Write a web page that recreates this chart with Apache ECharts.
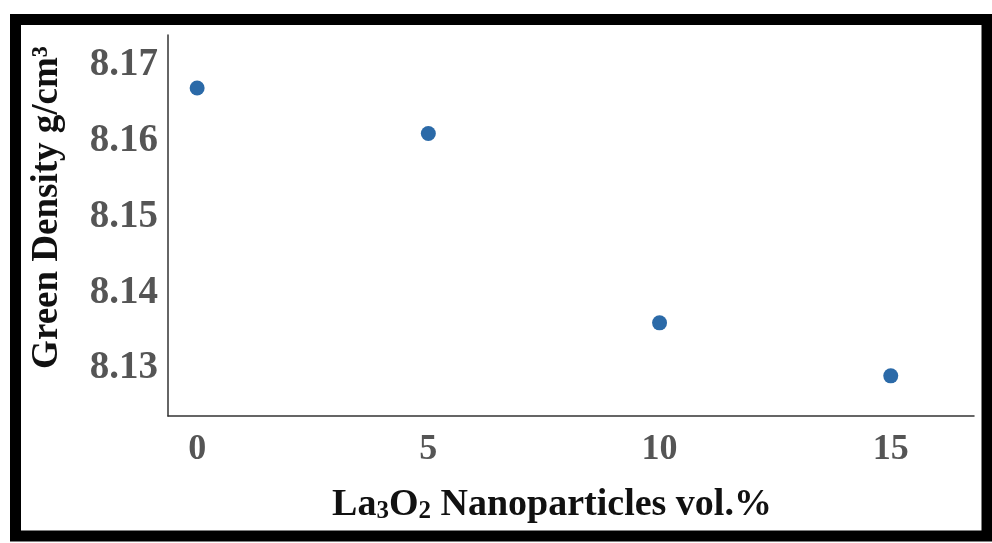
<!DOCTYPE html>
<html>
<head>
<meta charset="utf-8">
<script src="https://cdn.jsdelivr.net/npm/echarts@6/dist/echarts.min.js"></script>
<style>
  html, body { margin: 0; padding: 0; background: #fff; }
  #chart { width: 992px; height: 543px; }
</style>
</head>
<body>
<div id="chart"></div>
<script>
// La2O3 content (vol.%) and measured green density
const volPercent = [0, 5, 10, 15];
const greenDensity = [8.167, 8.161, 8.136, 8.129];
const xTicks = [0, 5, 10, 15];
const yTicks = [8.13, 8.14, 8.15, 8.16, 8.17];

const chart = echarts.init(document.getElementById('chart'));
const font = 'Liberation Serif';

const option = {
  backgroundColor: '#fff',
  animation: false,
  grid: { left: 168, top: 35, right: 18, bottom: 127 },
  graphic: [
    {
      type: 'rect',
      shape: { x: 15.5, y: 19.5, width: 971.5, height: 516.5 },
      style: { fill: 'none', stroke: '#000', lineWidth: 11 },
      z: 100
    }
  ],
  xAxis: {
    type: 'value',
    min: -0.63,
    max: 16.8,
    axisLine: { show: true, onZero: false, lineStyle: { color: '#333', width: 1.5 } },
    axisTick: { show: false },
    splitLine: { show: false },
    axisLabel: {
      customValues: xTicks,
      margin: 16,
      color: '#555',
      fontFamily: font,
      fontWeight: 'bold',
      fontSize: 36
    },
    name: '{a|La}{s|3}{a|O}{s|2}{a| Nanoparticles vol.%}',
    nameLocation: 'middle',
    nameGap: 66,
    nameTextStyle: {
      padding: [0, 38, 0, 0],
      rich: {
        a: { fontFamily: font, fontWeight: 'bold', fontSize: 38, color: '#111', lineHeight: 42, verticalAlign: 'bottom' },
        s: { fontFamily: font, fontWeight: 'bold', fontSize: 25, color: '#111', lineHeight: 42, verticalAlign: 'bottom' }
      }
    }
  },
  yAxis: {
    type: 'value',
    min: 8.1237,
    max: 8.174,
    axisLine: { show: true, onZero: false, lineStyle: { color: '#333', width: 1.5 } },
    axisTick: { show: false },
    splitLine: { show: false },
    axisLabel: {
      customValues: yTicks,
      margin: 10,
      color: '#555',
      fontFamily: font,
      fontWeight: 'bold',
      fontSize: 39,
      formatter: v => v.toFixed(2)
    },
    name: 'Green Density g/cm\u00B3',
    nameLocation: 'middle',
    nameGap: 102,
    nameTextStyle: {
      padding: [0, 0, 0, 36],
      fontFamily: font,
      fontWeight: 'bold',
      fontSize: 37,
      color: '#111'
    }
  },
  series: [
    {
      type: 'scatter',
      data: volPercent.map((v, i) => [v, greenDensity[i]]),
      symbolSize: 15,
      itemStyle: { color: '#2b6aa8', opacity: 1 }
    }
  ]
};

chart.setOption(option);
</script>
</body>
</html>
